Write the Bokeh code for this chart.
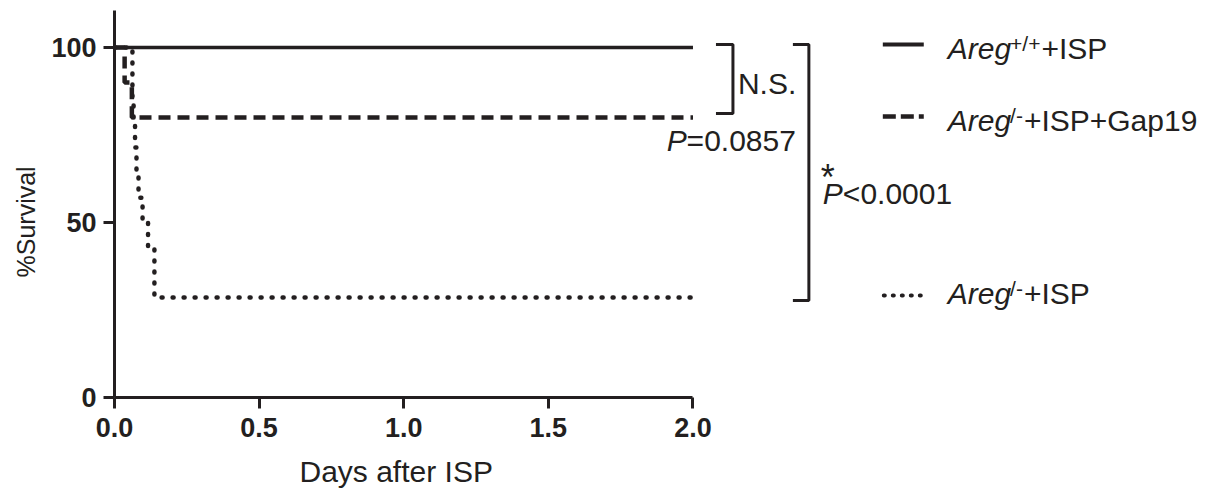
from bokeh.plotting import figure
from bokeh.models import Range1d, FixedTicker, NumeralTickFormatter, Label, Title
from bokeh.embed import file_html
from bokeh.resources import INLINE

# Kaplan-Meier survival steps: days after ISP vs. % survival
wt_days = [0.0, 2.0]
wt_surv = [100.0, 100.0]

gap19_days = [0.0, 0.035, 0.060, 2.0]
gap19_surv = [100.0, 90.0, 80.0, 80.0]

ko_days = [0.0, 0.062, 0.066, 0.071, 0.076, 0.083, 0.097, 0.116, 0.138, 2.0]
ko_surv = [100.0, 85.7, 78.6, 71.4, 64.3, 57.1, 50.0, 42.9, 28.6, 28.6]

x_ticks = [0.0, 0.5, 1.0, 1.5, 2.0]
y_ticks = [0, 50, 100]

gene = "Areg"
genotypes = ["+/+", "/-", "/-"]
treatments = ["+ISP", "+ISP+Gap19", "+ISP"]

ns_text = "N.S."
p_ns = "=0.0857"
p_sig = "<0.0001"

INK = "#231f20"
FONT = "Liberation Sans"
TXT = 30  # annotation text size

# page geometry (pixels)
W, H = 1230, 501
X0, PX_PER_DAY = 113, 289.5
Y0, PX_PER_PCT = 397, 3.5
TOP = 10


def dx(px):
    return (px - X0) / PX_PER_DAY


def dy(py):
    return (Y0 - py) / PX_PER_PCT


# advance widths (em) of the Arial-metric glyphs used in the annotations
EM = {"A": .667, "r": .333, "e": .556, "g": .556, "+": .584, "/": .278,
      "-": .333, "P": .667, "=": .584, "<": .584, ".": .278}
for d in "0123456789":
    EM[d] = .556


def text_w(s, size):
    return sum(EM.get(c, .556) for c in s) * size


p = figure(width=W, height=H, output_backend="svg", toolbar_location=None,
           x_range=Range1d(0, dx(W)), y_range=Range1d(0, dy(TOP)),
           min_border_left=X0, min_border_right=0, min_border_top=TOP,
           min_border_bottom=H - Y0)
p.outline_line_color = None
p.xgrid.visible = False
p.ygrid.visible = False
p.background_fill_color = "white"
p.border_fill_color = "white"

for ax in (p.xaxis[0], p.yaxis[0]):
    ax.axis_line_width = 3
    ax.axis_line_color = INK
    ax.major_tick_line_width = 3
    ax.major_tick_line_color = INK
    ax.major_tick_out = 11
    ax.major_tick_in = 0
    ax.minor_tick_line_color = None
    ax.major_label_text_font = FONT
    ax.major_label_text_font_size = "27px"
    ax.major_label_text_font_style = "bold"
    ax.major_label_text_color = INK

p.xaxis.ticker = FixedTicker(ticks=x_ticks)
p.xaxis.formatter = NumeralTickFormatter(format="0.0")
p.xaxis.bounds = (x_ticks[0], x_ticks[-1])
p.xaxis.major_label_standoff = 9
p.yaxis.ticker = FixedTicker(ticks=y_ticks)
p.yaxis.major_label_standoff = 7

# axis titles, offset along their axes to sit under the 0-2 day span
# and beside the 0-100 % span
p.add_layout(Title(text="Days after ISP", align="left", offset=185,
                   standoff=26, text_font=FONT, text_font_size="30px",
                   text_font_style="normal", text_color=INK), "below")
p.add_layout(Title(text="%Survival", align="left", offset=120,
                   standoff=18, text_font=FONT, text_font_size="25px",
                   text_font_style="normal", text_color=INK), "left")

# survival curves
p.step(ko_days, ko_surv, mode="after", line_color=INK, line_width=4.5,
       line_dash="1 10", line_cap="round")
p.step(gap19_days, gap19_surv, mode="after", line_color=INK, line_width=4.5,
       line_dash="12 7", line_cap="butt")
p.step(wt_days, wt_surv, mode="after", line_color=INK, line_width=3.5)

# significance brackets
p.line([dx(715), dx(732), dx(732), dx(715)], [dy(44), dy(44), dy(113), dy(113)],
       line_color=INK, line_width=3)
p.line([dx(792), dx(808), dx(808), dx(792)], [dy(44), dy(44), dy(300), dy(300)],
       line_color=INK, line_width=3)

# legend samples
p.line([dx(882), dx(923)], [dy(44), dy(44)], line_color=INK, line_width=4)
p.line([dx(882), dx(923)], [dy(116), dy(116)], line_color=INK, line_width=4.5,
       line_dash="13 5")
p.line([dx(883), dx(920)], [dy(295), dy(295)], line_color=INK, line_width=4,
       line_dash="1 8", line_cap="round")


def add_text(px, base, text, size=TXT, style="normal", align="left"):
    """Place text so that its baseline sits at pixel row `base`."""
    p.add_layout(Label(x=dx(px), y=dy(base - 0.36 * size), text=text,
                       text_font=FONT, text_font_size=f"{size}px",
                       text_font_style=style, text_align=align,
                       text_baseline="middle", text_color=INK))


# legend entries: italic gene, superscript genotype, treatment
LEG_X = 947
for base, geno, treat in zip([59, 131, 304], genotypes, treatments):
    add_text(LEG_X, base, gene, TXT, style="italic")
    sx = LEG_X + text_w(gene, TXT) - 1
    add_text(sx, base - 8, geno, 21)
    tx = sx + text_w(geno, 21) + 1
    add_text(tx, base, treat, TXT)

# statistics text
add_text(737, 94, ns_text)
add_text(795, 151, p_ns, align="right")
add_text(795 - text_w(p_ns, TXT), 151, "P", style="italic", align="right")
add_text(820, 190, "*", 36)
add_text(822, 204, "P", style="italic")
add_text(822 + text_w("P", TXT), 204, p_sig)

open("out.html", "w").write(file_html(p, INLINE))
